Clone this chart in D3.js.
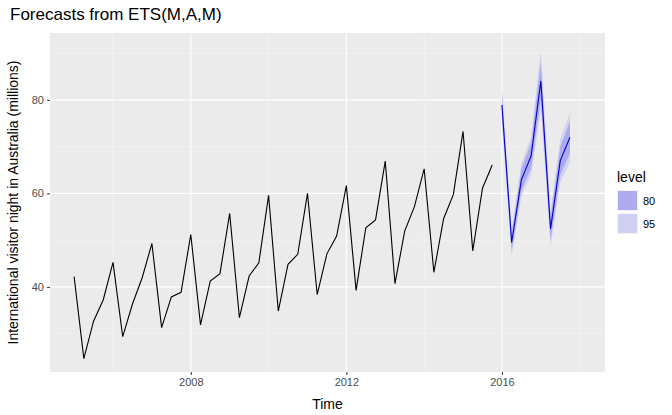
<!DOCTYPE html>
<html><head><meta charset="utf-8">
<script src="https://cdn.jsdelivr.net/npm/d3@7"></script>
<style>body{margin:0;background:#fff;font-family:"Liberation Sans",Arial,sans-serif}</style>
</head><body>
<script>
// observed quarterly series, 2005 Q1 .. 2015 Q4
const startYear = 2005
const visitors = [42.21, 24.65, 32.67, 37.26, 45.24, 29.35, 36.34, 41.96,
  49.28, 31.28, 37.85, 38.84, 51.21, 31.89, 41.26, 42.83,
  55.71, 33.42, 42.33, 45.15, 59.58, 34.84, 44.84, 46.97,
  60.01, 38.37, 47.07, 50.88, 61.65, 39.25, 52.66, 54.33,
  66.89, 40.69, 51.93, 57.17, 65.26, 43.12, 54.59, 59.73,
  73.25, 47.70, 61.10, 66.06]
// forecasts 2016 Q1 .. 2017 Q4
const fcMean = [78.9, 49.5, 62.9, 68.0, 84.0, 52.4, 67.0, 72.0]
const lo80 = [76.4, 47.7, 60.6, 65.3, 80.0, 50.0, 64.0, 68.6]
const hi80 = [81.4, 51.3, 65.2, 70.7, 88.0, 54.8, 70.0, 75.4]
const lo95 = [75.0, 46.6, 59.4, 63.8, 77.8, 48.6, 62.3, 66.7]
const hi95 = [82.8, 52.4, 66.4, 72.2, 90.6, 56.2, 71.7, 77.3]
const xTicks = [2008, 2012, 2016]
const xMinor = [2006, 2010, 2014, 2018]
const yTicks = [40, 60, 80]
const yMinor = [30, 50, 70, 90]
const levels = ['80', '95']

const W = 672, H = 415
const m = { l: 50, r: 67, t: 33, b: 43 }
const svg = d3.select('body').append('svg').attr('width', W).attr('height', H)

const x = d3.scaleLinear().domain([2004.38, 2018.65]).range([m.l, W - m.r])
const y = d3.scaleLinear().domain([21.8, 94.3]).range([H - m.b, m.t])

const t = (i, off) => startYear + (i + off) / 4
const obs = visitors.map((v, i) => ({ t: t(i, 0), v }))
const fc = fcMean.map((v, i) => ({ t: t(i, 44), v, lo80: lo80[i], hi80: hi80[i], lo95: lo95[i], hi95: hi95[i] }))

svg.append('rect').attr('x', m.l).attr('y', m.t)
  .attr('width', W - m.l - m.r).attr('height', H - m.t - m.b).attr('fill', '#EBEBEB')

const g = svg.append('g')
g.selectAll('.ymin').data(yMinor).enter().append('line')
  .attr('x1', m.l).attr('x2', W - m.r).attr('y1', d => y(d)).attr('y2', d => y(d))
  .attr('stroke', '#F5F5F5').attr('stroke-width', 0.6)
g.selectAll('.xmin').data(xMinor).enter().append('line')
  .attr('y1', m.t).attr('y2', H - m.b).attr('x1', d => x(d)).attr('x2', d => x(d))
  .attr('stroke', '#F5F5F5').attr('stroke-width', 0.6)
g.selectAll('.ymaj').data(yTicks).enter().append('line')
  .attr('x1', m.l).attr('x2', W - m.r).attr('y1', d => y(d)).attr('y2', d => y(d))
  .attr('stroke', '#fff').attr('stroke-width', 1.1)
g.selectAll('.xmaj').data(xTicks).enter().append('line')
  .attr('y1', m.t).attr('y2', H - m.b).attr('x1', d => x(d)).attr('x2', d => x(d))
  .attr('stroke', '#fff').attr('stroke-width', 1.1)

const area = (lo, hi) => d3.area().x(d => x(d.t)).y0(d => y(d[lo])).y1(d => y(d[hi]))
svg.append('path').datum(fc).attr('d', area('lo95', 'hi95')).attr('fill', '#D0D0F2').attr('opacity', 0.9)
svg.append('path').datum(fc).attr('d', area('lo80', 'hi80')).attr('fill', '#ABABEE')

const line = d3.line().x(d => x(d.t)).y(d => y(d.v))
svg.append('path').datum(obs).attr('d', line).attr('fill', 'none').attr('stroke', '#000').attr('stroke-width', 1.1)
svg.append('path').datum(fc).attr('d', line).attr('fill', 'none').attr('stroke', '#0000CC').attr('stroke-width', 1.1)

// axes
const xa = svg.append('g').attr('transform', `translate(0,${H - m.b})`)
  .call(d3.axisBottom(x).tickValues(xTicks).tickFormat(d3.format('d')).tickSize(3).tickPadding(3))
const ya = svg.append('g').attr('transform', `translate(${m.l},0)`)
  .call(d3.axisLeft(y).tickValues(yTicks).tickSize(3).tickPadding(3))
for (const a of [xa, ya]) {
  a.select('.domain').remove()
  a.selectAll('line').attr('stroke', '#333')
  a.selectAll('text').attr('fill', '#4D4D4D').style('font-size', '11px')
}

svg.append('text').attr('x', 10).attr('y', 20).text('Forecasts from ETS(M,A,M)')
  .style('font-size', '17px')
svg.append('text').attr('x', (m.l + W - m.r) / 2).attr('y', 409).attr('text-anchor', 'middle')
  .text('Time').style('font-size', '14px')
svg.append('text').attr('transform', `translate(18,${(m.t + H - m.b) / 2}) rotate(-90)`)
  .attr('text-anchor', 'middle').text('International visitor night in Australia (millions)')
  .style('font-size', '14px')

// legend
const lg = svg.append('g').attr('transform', 'translate(617,170)')
lg.append('text').attr('x', 0).attr('y', 12).text('level').style('font-size', '14px')
const key = lg.selectAll('.k').data(levels).enter().append('g')
  .attr('transform', (d, i) => `translate(0,${20 + i * 23})`)
key.append('rect').attr('width', 21).attr('height', 21).attr('fill', '#F2F2F2')
key.append('rect').attr('x', 1).attr('y', 1).attr('width', 19).attr('height', 19)
  .attr('fill', (d, i) => i ? '#D0D0F2' : '#ABABEE')
key.append('text').attr('x', 26).attr('y', 15).text(d => d).style('font-size', '11px')
</script>
</body></html>
